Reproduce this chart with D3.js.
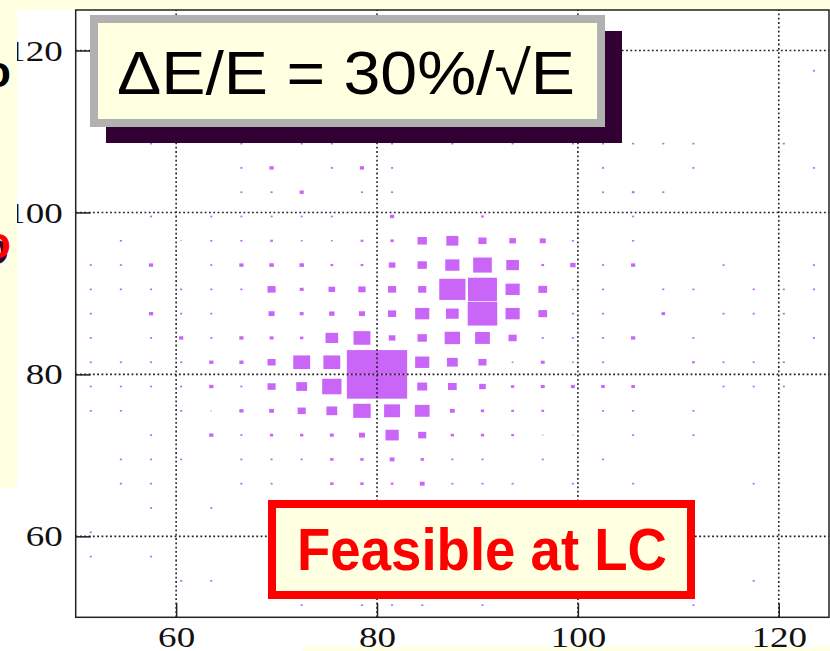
<!DOCTYPE html>
<html>
<head>
<meta charset="utf-8">
<script src="https://cdn.jsdelivr.net/npm/d3@7"></script>
<style>
  html, body { margin: 0; padding: 0; background: #ffffff; }
  svg { display: block; }
</style>
</head>
<body>
<svg id="chart" width="830" height="651"></svg>
<script>
// Bin centres (GeV), shared by both dijet-mass axes: 25 bins of 3 GeV from 50 to 125
const binCenters = [51.5, 54.5, 57.5, 60.5, 63.5, 66.5, 69.5, 72.5, 75.5, 78.5, 81.5, 84.5, 87.5,
                    90.5, 93.5, 96.5, 99.5, 102.5, 105.5, 108.5, 111.5, 114.5, 117.5, 120.5, 123.5];

// Cell contents, one row per m2 bin from the top (123.5) down to the bottom (51.5)
const counts = [
  [0,0,0,0,0,0,0,0,0,0,0,0,0,0,0,0,0,0,0,0,0,0,0,0,0],
  [0,0,0,0,0,0,0,0,0,0,0,0,0,0,0,0,0,0,0,0,0,0,0,0,0],
  [0,0,0,0,0,0,0,0,0,0,0,0,0,0,0,0,0,0,0,0,0,0,0,0,7],
  [0,0,0,0,0,0,0,0,0,0,0,0,0,0,0,0,0,0,0,0,0,0,0,0,0],
  [0,0,0,0,0,0,0,0,0,0,0,0,0,0,0,0,0,0,0,0,0,0,0,0,0],
  [0,0,7,0,0,7,0,7,7,0,7,0,7,0,7,0,7,7,7,7,7,0,0,7,0],
  [0,0,0,0,0,7,14,0,7,14,7,0,0,0,0,0,0,7,0,0,7,0,0,0,7],
  [0,0,0,0,0,7,7,14,0,7,7,0,0,0,0,0,0,7,9,7,0,0,0,0,0],
  [0,0,7,0,7,7,7,7,7,0,14,0,0,9,0,0,0,0,7,0,0,0,0,0,0],
  [0,7,0,4,7,7,9,6,6,9,11,31,40,27,22,20,7,0,7,0,0,0,0,0,0],
  [7,7,14,0,7,14,15,15,9,9,22,31,47,62,42,9,18,7,14,0,0,7,0,0,7],
  [7,7,7,7,7,7,27,13,22,24,27,27,87,96,47,29,6,7,0,7,7,0,7,7,7],
  [7,0,14,7,7,0,20,13,18,20,27,47,42,98,47,29,7,7,0,12,0,7,7,7,0],
  [7,0,7,14,7,14,13,11,42,56,22,31,51,49,27,7,7,7,14,0,7,0,0,0,7],
  [7,7,7,7,14,14,27,56,56,100,100,47,36,27,6,13,6,7,0,0,9,7,7,7,0],
  [7,7,7,7,14,7,27,36,64,100,100,33,29,22,11,13,13,12,12,0,0,7,7,7,0],
  [7,7,0,7,4,14,16,27,36,58,53,49,16,11,9,9,0,7,7,0,7,0,0,0,0],
  [0,0,7,0,14,7,11,11,13,20,44,27,11,11,9,4,4,0,7,0,7,0,0,0,0],
  [0,7,7,7,0,7,7,7,11,11,16,11,7,7,0,7,0,7,0,0,0,0,0,0,0],
  [0,7,7,0,0,7,7,0,11,11,9,16,7,7,7,0,7,0,7,0,0,0,7,0,0],
  [0,0,7,0,7,0,0,0,0,0,0,0,0,0,0,0,0,0,0,0,0,0,0,0,0],
  [7,0,0,0,0,0,0,0,0,0,0,0,0,0,0,0,0,0,0,0,0,0,0,0,0],
  [7,0,7,0,0,0,0,0,0,0,0,0,0,0,0,0,0,0,0,0,0,0,0,0,0],
  [0,0,0,7,7,0,0,0,0,0,0,0,0,0,0,0,0,0,0,0,0,0,7,0,0],
  [0,0,0,0,0,0,0,7,0,7,7,7,0,7,0,0,0,0,0,0,7,0,0,0,0]
];

const xTicks = [60, 80, 100, 120];
const yTicks = [60, 80, 100, 120];
const titleLabel = "\u0394E/E = 30%/\u221AE";
const noteLabel = "Feasible at LC";

const W = 830, H = 651;
const svg = d3.select("#chart");

const x = d3.scaleLinear().domain([50, 125]).range([75.7, 829]);
const y = d3.scaleLinear().domain([50, 125]).range([617.3, 10]);
const side = d3.scaleLinear().domain([0, 100]).range([0, 1]);   // box side as fraction of the bin
const halfBin = 1.5;

// page background
svg.append("rect").attr("width", W).attr("height", H).attr("fill", "#ffffff");
svg.append("rect").attr("x", 0).attr("y", 0).attr("width", W).attr("height", 10).attr("fill", "#ffffe1");
svg.append("rect").attr("x", 303).attr("y", 647).attr("width", W - 303).attr("height", 4).attr("fill", "#ffffe1");

// flatten the table into box cells
const cells = [];
const nRows = binCenters.length;
counts.forEach((row, i) => {
  row.forEach((v, j) => {
    if (v > 0) cells.push({ mx: binCenters[j], my: binCenters[nRows - 1 - i], v });
  });
});

const boxes = svg.append("g").attr("class", "boxes");
boxes.selectAll("rect").data(cells).join("rect")
  .attr("x", d => {
    const x0 = x(d.mx - halfBin), x1 = x(d.mx + halfBin);
    const w = (x1 - x0) * side(d.v);
    return (x0 + x1) / 2 - w / 2;
  })
  .attr("width", d => (x(d.mx + halfBin) - x(d.mx - halfBin)) * side(d.v))
  .attr("y", d => {
    const y0 = y(d.my + halfBin), y1 = y(d.my - halfBin);
    const h = (y1 - y0) * side(d.v);
    return (y0 + y1) / 2 - h / 2;
  })
  .attr("height", d => (y(d.my - halfBin) - y(d.my + halfBin)) * side(d.v))
  .attr("fill", "#c966f7");

// dotted grid
const grid = svg.append("g").attr("class", "grid")
  .attr("stroke", "#222").attr("stroke-width", 1.6).attr("stroke-dasharray", "1.8,2.5");
grid.selectAll("line.v").data(xTicks).join("line").attr("class", "v")
  .attr("x1", d => x(d)).attr("x2", d => x(d))
  .attr("y1", y(50)).attr("y2", y(125));
grid.selectAll("line.h").data(yTicks).join("line").attr("class", "h")
  .attr("y1", d => y(d)).attr("y2", d => y(d))
  .attr("x1", x(50)).attr("x2", x(125));

// axes with inward ticks
const labelFont = "'Liberation Serif', 'Times New Roman', serif";
const stretch = 1.236;

const gx = svg.append("g").attr("transform", `translate(0,${y(50)})`)
  .call(d3.axisBottom(x).tickValues(xTicks).tickSize(-14).tickSizeOuter(0).tickPadding(8).tickFormat(d3.format("d")));
const gy = svg.append("g").attr("transform", `translate(${x(50)},0)`)
  .call(d3.axisLeft(y).tickValues(yTicks).tickSize(-15).tickSizeOuter(0).tickPadding(13).tickFormat(d3.format("d")));

[gx, gy].forEach(g => {
  g.select(".domain").remove();
  g.selectAll(".tick line").attr("stroke", "#222").attr("stroke-width", 1.5);
  g.selectAll(".tick text")
    .attr("fill", "#111")
    .style("font-family", labelFont)
    .style("font-size", "30px");
});
gy.selectAll(".tick text").attr("x", -13 / stretch).attr("transform", `scale(${stretch},1)`);
gx.selectAll(".tick text").attr("transform", `scale(${stretch},1)`);

// frame
svg.append("rect")
  .attr("x", x(50)).attr("y", y(125))
  .attr("width", x(125) - x(50)).attr("height", y(50) - y(125))
  .attr("fill", "none").attr("stroke", "#222").attr("stroke-width", 1.5);

// resolution banner with drop shadow
svg.append("rect").attr("x", 106).attr("y", 31).attr("width", 516).attr("height", 112).attr("fill", "#330033");
svg.append("rect").attr("x", 94).attr("y", 19).attr("width", 507).attr("height", 104)
  .attr("fill", "#ffffe1").attr("stroke", "#b1b1b1").attr("stroke-width", 8);
svg.append("text")
  .attr("x", 117).attr("y", 94)
  .attr("textLength", 458).attr("lengthAdjust", "spacingAndGlyphs")
  .style("font-family", "'Liberation Sans', Arial, sans-serif")
  .style("font-size", "61px")
  .attr("fill", "#000")
  .text(titleLabel);

// red note box
svg.append("rect").attr("x", 272).attr("y", 504).attr("width", 419).attr("height", 91)
  .attr("fill", "#ffffe1").attr("stroke", "#ff0000").attr("stroke-width", 8);
svg.append("text")
  .attr("x", 297).attr("y", 570)
  .attr("textLength", 370).attr("lengthAdjust", "spacingAndGlyphs")
  .style("font-family", "'Liberation Sans', Arial, sans-serif")
  .style("font-size", "60px").style("font-weight", "bold")
  .attr("fill", "#ff0000")
  .text(noteLabel);

// slide margin on the left, with the ends of neighbouring slide text
svg.append("rect").attr("x", 0).attr("y", 0).attr("width", 17).attr("height", 488).attr("fill", "#ffffe1");
const edge = svg.append("g")
  .style("font-family", "'Liberation Sans', Arial, sans-serif")
  .style("font-weight", "bold").style("font-size", "44px");
edge.append("text").attr("x", -16).attr("y", 87).attr("fill", "#000").text("o");
edge.append("text").attr("x", -18).attr("y", 264).attr("fill", "#330033").text("o");
edge.append("text").attr("x", -16).attr("y", 258).attr("fill", "#ff0000").text("o");
</script>
</body>
</html>
